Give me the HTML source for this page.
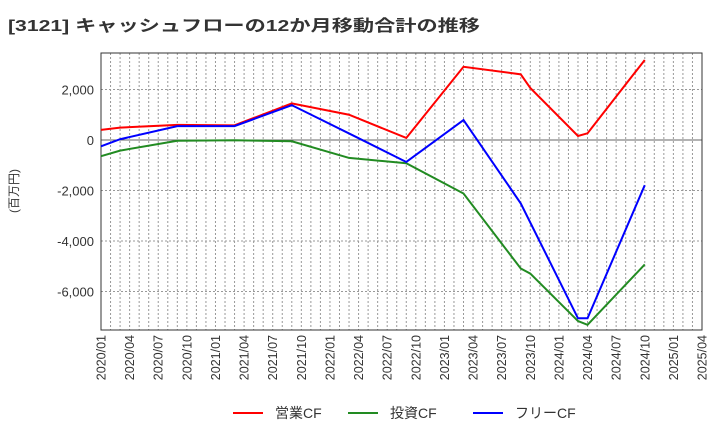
<!DOCTYPE html>
<html><head><meta charset="utf-8"><style>
body{margin:0;background:#fff;}
svg text{font-family:"Liberation Sans","Noto Sans CJK JP",sans-serif;}
</style></head><body>
<svg id="c" width="720" height="440" viewBox="0 0 720 440">
<text x="8" y="31" font-size="16" font-weight="bold" fill="#333" textLength="472" lengthAdjust="spacingAndGlyphs">[3121]  キャッシュフローの12か月移動合計の推移</text>
<text transform="translate(18,191) rotate(-90)" font-size="12" fill="#333" text-anchor="middle">(百万円)</text>
<g id="grid"></g><g id="axes"></g><g id="series"></g>
<g>
<line x1="233" y1="413" x2="263" y2="413" stroke="#f00" stroke-width="2"/><text x="275" y="418" font-size="14" fill="#333">営業CF</text>
<line x1="348" y1="413" x2="378" y2="413" stroke="#228b22" stroke-width="2"/><text x="390" y="418" font-size="14" fill="#333">投資CF</text>
<line x1="473" y1="413" x2="503" y2="413" stroke="#00f" stroke-width="2"/><text x="515" y="418" font-size="14" fill="#333">フリーCF</text>
</g>
</svg>
<script>
const xLabels=["2020/01","2020/04","2020/07","2020/10","2021/01","2021/04","2021/07","2021/10","2022/01","2022/04","2022/07","2022/10","2023/01","2023/04","2023/07","2023/10","2024/01","2024/04","2024/07","2024/10","2025/01","2025/04"];
const yTicks=[2000,0,-2000,-4000,-6000];
const opMonths=[0,2,8,14,20,26,32,38,44,45,50,51,57];
const opValues=[400,490,600,580,1450,1000,80,2900,2600,2060,160,265,3170];
const invMonths=[0,2,8,14,20,26,32,38,44,45,50,51,57];
const invValues=[-640,-420,-30,-10,-50,-710,-920,-2120,-5090,-5290,-7170,-7320,-4930];
const freeMonths=[0,2,8,14,20,26,32,38,44,50,51,57];
const freeValues=[-250,30,550,550,1380,260,-870,790,-2510,-7060,-7060,-1790];
const L=101,R=702,T=53,B=330;
const xs=m=>L+m*(R-L)/63;
const ys=v=>140-v*50.5/2000;
const NS="http://www.w3.org/2000/svg";
function mk(t,a,p){const e=document.createElementNS(NS,t);for(const k in a)e.setAttribute(k,a[k]);p.appendChild(e);return e;}
const g=document.getElementById('grid'),ax=document.getElementById('axes'),s=document.getElementById('series');
for(let m=1;m<63;m++){const l=mk('line',{x1:xs(m),x2:xs(m),y1:T,y2:B,stroke:'#999','stroke-dasharray':'2,2','stroke-width':1},g);

}
yTicks.forEach(v=>{const l=mk('line',{x1:L,x2:R,y1:ys(v),y2:ys(v),stroke:v===0?'#666':'#999','stroke-dasharray':v===0?'':'2,2','stroke-width':1},g);


const t=mk('text',{x:L-7,y:ys(v)+5,'text-anchor':'end','font-size':13,fill:'#333'},ax);


t.textContent=v.toLocaleString('en-US');});
const f=mk('rect',{x:L,y:T,width:R-L,height:B-T,fill:'none',stroke:'#333','stroke-width':1},ax);


xLabels.forEach((lb,i)=>{const x=xs(i*3);const t=mk('text',{transform:`translate(${x+4.5},335) rotate(-90)`,'text-anchor':'end','font-size':12.5,fill:'#333'},ax);


t.textContent=lb;});
function line(ms,vs,c,n){const p=mk('polyline',{points:ms.map((m,i)=>xs(m)+','+ys(vs[i])).join(' '),fill:'none',stroke:c,'stroke-width':2},s);

}
line(invMonths,invValues,'#228b22','investing-cf-line');
line(opMonths,opValues,'#f00','operating-cf-line');
line(freeMonths,freeValues,'#00f','free-cf-line');
</script>
</body></html>
